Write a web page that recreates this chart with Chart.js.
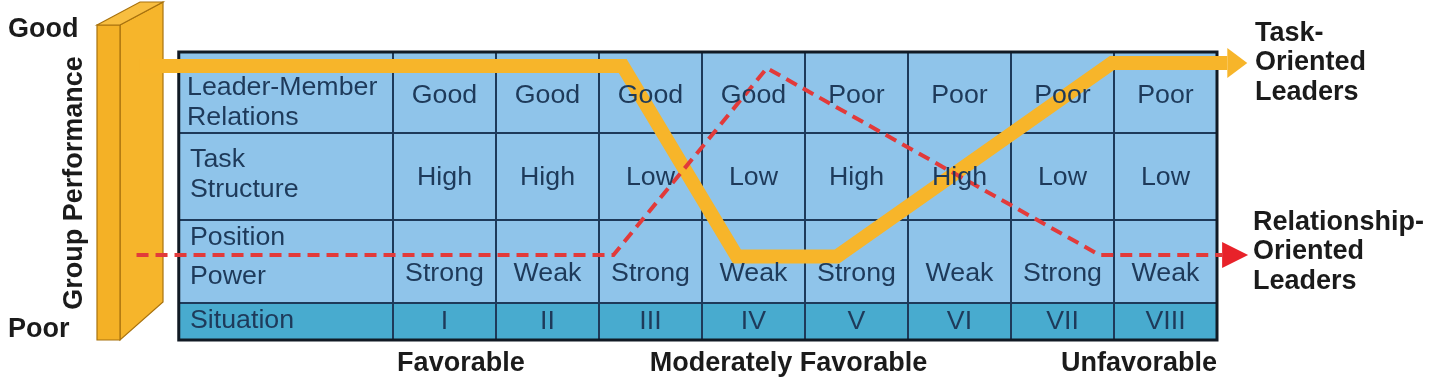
<!DOCTYPE html>
<html>
<head>
<meta charset="utf-8">
<script src="https://cdn.jsdelivr.net/npm/chart.js@4.4.1/dist/chart.umd.min.js"></script>
<style>
  html, body { margin: 0; padding: 0; background: #fff; }
  #wrap { width: 1440px; height: 388px; position: relative; }
</style>
</head>
<body>
<div id="wrap"><canvas id="Chart"></canvas></div>
<script>
//table contents (one column per situation)
var situations = ["I", "II", "III", "IV", "V", "VI", "VII", "VIII"];
var relations = ["Good", "Good", "Good", "Good", "Poor", "Poor", "Poor", "Poor"];
var structure = ["High", "High", "Low", "Low", "High", "High", "Low", "Low"];
var power = ["Strong", "Weak", "Strong", "Weak", "Strong", "Weak", "Strong", "Weak"];
var rowLabels = [["Leader-Member", "Relations"], ["Task", "Structure"], ["Position", "Power"], ["Situation"]];
var zones = ["Favorable", "Moderately Favorable", "Unfavorable"];
var perfLabels = ["Poor", "Good"];

//performance lines: x = position along the situations, y = group performance (0 poor .. 10 good)
var taskX = [-1.96, 2.73, 3.84, 4.81, 7.48, 8.6];
var taskY = [8.8, 8.8, 2.45, 2.45, 8.9, 8.9];
var relX = [-1.99, 2.64, 4.13, 7.36, 8.55];
var relY = [2.5, 2.5, 8.73, 2.5, 2.5];

var ORANGE = "#F7B52A";
var RED = "#E23A3A";
var NAVY = "#1E3A5A";
var FONT = "'Liberation Sans', Arial, sans-serif";

function pts(xs, ys) {
  return xs.map(function (x, i) { return { x: x, y: ys[i] }; });
}

//text with a slight horizontal stretch like the original artwork
function txt(ctx, s, x, y, align, sx) {
  ctx.save();
  ctx.translate(x, y);
  ctx.scale(sx || 1, 1);
  ctx.textAlign = align || "center";
  ctx.textBaseline = "middle";
  ctx.fillText(s, 0, 0);
  ctx.restore();
}

//table background, grid and the yellow performance slab (under the lines)
var backPlugin = {
  id: "back",
  beforeDatasetsDraw: function (chart) {
    var ctx = chart.ctx;
    var xs = chart.scales.x;
    var left = xs.getPixelForValue(-1.58);
    var cols = [];
    for (var i = 0; i <= situations.length; i++) cols.push(xs.getPixelForValue(i + 0.5));
    var right = cols[cols.length - 1];
    var rows = [52, 133, 220, 303, 340];

    ctx.save();
    ctx.fillStyle = "#8FC4EA";
    ctx.fillRect(left, rows[0], right - left, rows[3] - rows[0]);
    ctx.fillStyle = "#48ABCF";
    ctx.fillRect(left, rows[3], right - left, rows[4] - rows[3]);

    ctx.strokeStyle = NAVY;
    ctx.lineWidth = 2;
    ctx.beginPath();
    for (var r = 1; r < rows.length - 1; r++) {
      ctx.moveTo(left, rows[r]);
      ctx.lineTo(right, rows[r]);
    }
    for (var c = 0; c < cols.length - 1; c++) {
      ctx.moveTo(cols[c], rows[0]);
      ctx.lineTo(cols[c], rows[4]);
    }
    ctx.stroke();
    ctx.strokeStyle = "#111a24";
    ctx.lineWidth = 3;
    ctx.strokeRect(left, rows[0], right - left, rows[4] - rows[0]);

    //slab
    ctx.lineWidth = 1.2;
    ctx.strokeStyle = "#A8720E";
    ctx.fillStyle = "#F6B52B";
    ctx.beginPath();
    ctx.moveTo(120, 25); ctx.lineTo(163, 2); ctx.lineTo(163, 302); ctx.lineTo(120, 340); ctx.closePath();
    ctx.fill(); ctx.stroke();
    ctx.fillStyle = "#F4B126";
    ctx.beginPath();
    ctx.moveTo(97, 25); ctx.lineTo(120, 25); ctx.lineTo(120, 340); ctx.lineTo(97, 340); ctx.closePath();
    ctx.fill(); ctx.stroke();
    ctx.fillStyle = "#F8BE40";
    ctx.beginPath();
    ctx.moveTo(97, 25); ctx.lineTo(140, 2); ctx.lineTo(163, 2); ctx.lineTo(120, 25); ctx.closePath();
    ctx.fill(); ctx.stroke();
    ctx.restore();
  },
  afterDatasetsDraw: function (chart) {
    var ctx = chart.ctx;
    var xs = chart.scales.x;
    var ys = chart.scales.y;

    //arrow heads at the end of each line
    var heads = [{ len: 26, half: 13, col: "#E8222A" }, { len: 20, half: 15, col: ORANGE }];
    chart.data.datasets.forEach(function (ds, i) {
      var meta = chart.getDatasetMeta(i);
      var p = meta.data[meta.data.length - 1];
      var h = heads[i];
      ctx.save();
      ctx.fillStyle = h.col;
      ctx.beginPath();
      ctx.moveTo(p.x, p.y - h.half);
      ctx.lineTo(p.x + h.len, p.y);
      ctx.lineTo(p.x, p.y + h.half);
      ctx.closePath();
      ctx.fill();
      ctx.restore();
    });

    //table text
    ctx.save();
    ctx.fillStyle = NAVY;
    ctx.font = "25px " + FONT;
    var sx = 1.07;
    var lx = 187;
    txt(ctx, rowLabels[0][0], lx, 88, "left", sx);
    txt(ctx, rowLabels[0][1], lx, 118, "left", sx);
    txt(ctx, rowLabels[1][0], lx + 3, 160, "left", sx);
    txt(ctx, rowLabels[1][1], lx + 3, 190, "left", sx);
    txt(ctx, rowLabels[2][0], lx + 3, 238, "left", sx);
    txt(ctx, rowLabels[2][1], lx + 3, 277, "left", sx);
    txt(ctx, rowLabels[3][0], lx + 3, 321, "left", sx);
    for (var i = 0; i < situations.length; i++) {
      var cx = xs.getPixelForValue(i + 1);
      txt(ctx, relations[i], cx, 96, "center", sx);
      txt(ctx, structure[i], cx, 178, "center", sx);
      txt(ctx, power[i], cx, 274, "center", sx);
      txt(ctx, situations[i], cx, 322, "center", sx);
    }

    //outer labels
    ctx.fillStyle = "#1b1b1b";
    ctx.font = "bold 27px " + FONT;
    txt(ctx, perfLabels[1], 8, ys.getPixelForValue(10), "left");
    txt(ctx, perfLabels[0], 8, ys.getPixelForValue(0), "left");
    ctx.save();
    ctx.translate(75, 183);
    ctx.rotate(-Math.PI / 2);
    txt(ctx, "Group Performance", 0, 0, "center");
    ctx.restore();

    txt(ctx, "Task-", 1255, 34, "left");
    txt(ctx, "Oriented", 1255, 63, "left");
    txt(ctx, "Leaders", 1255, 93, "left");
    txt(ctx, "Relationship-", 1253, 223, "left");
    txt(ctx, "Oriented", 1253, 252, "left");
    txt(ctx, "Leaders", 1253, 282, "left");

    txt(ctx, zones[0], xs.getPixelForValue(0.54), 364, "left");
    txt(ctx, zones[1], xs.getPixelForValue(4.34), 364, "center");
    txt(ctx, zones[2], xs.getPixelForValue(8.5), 364, "right");
    ctx.restore();
  },
};

var ctx = document.getElementById("Chart").getContext("2d");
var myChart = new Chart(ctx, {
  type: "line",
  data: {
    datasets: [
      {
        label: "Relationship-Oriented Leaders",
        data: pts(relX, relY),
        borderColor: RED,
        borderWidth: 4,
        borderDash: [12, 7],
        pointRadius: 0,
        tension: 0,
        clip: false,
      },
      {
        label: "Task-Oriented Leaders",
        data: pts(taskX, taskY),
        borderColor: ORANGE,
        borderWidth: 14,
        borderJoinStyle: "miter",
        pointRadius: 0,
        tension: 0,
        clip: false,
      },
    ],
  },
  options: {
    responsive: true,
    maintainAspectRatio: false,
    animation: false,
    layout: { padding: { left: 393, right: 223, top: 30, bottom: 58 } },
    scales: {
      x: { type: "linear", min: 0.5, max: 8.5, display: false },
      y: { type: "linear", min: 0, max: 10, display: false },
    },
    plugins: { legend: { display: false }, tooltip: { enabled: false } },
  },
  plugins: [backPlugin],
});
</script>
</body>
</html>
